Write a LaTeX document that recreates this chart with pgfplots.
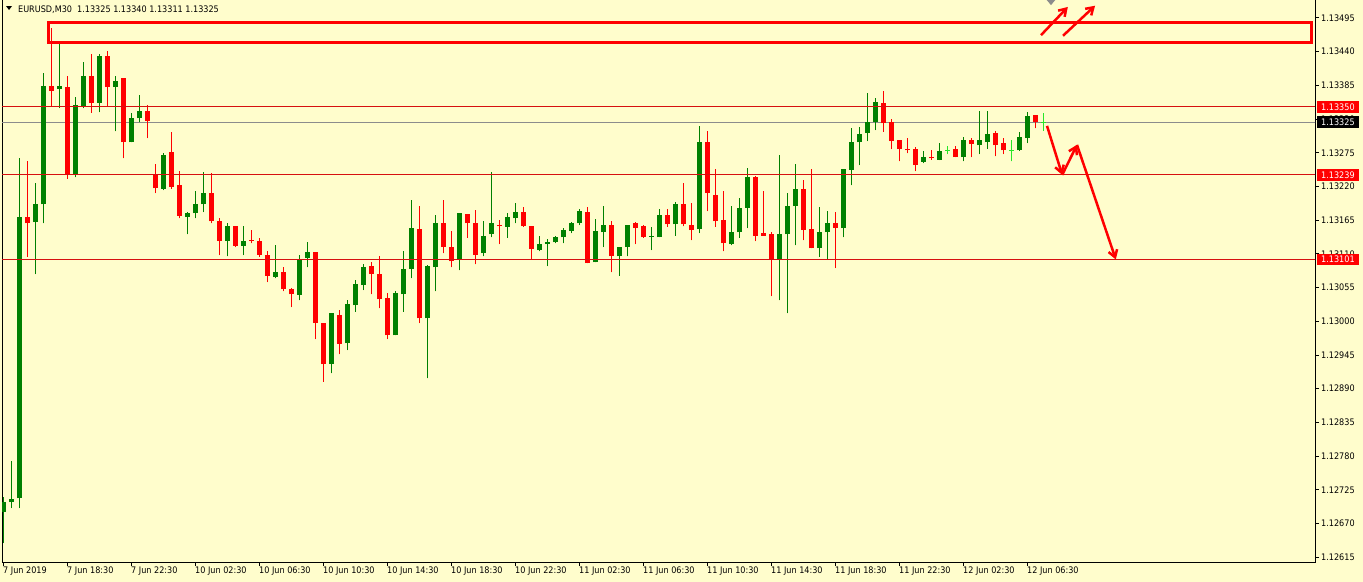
\documentclass[border=0pt]{standalone}
\usepackage{fontspec}
\setmainfont{DejaVu Sans}[FakeStretch=0.9]
\usepackage{pgfplots}
\pgfplotsset{compat=1.18}
\usepackage{pgfplotstable}
\usetikzlibrary{arrows.meta}

\definecolor{mtbg}{RGB}{255,253,204}
\definecolor{mtbull}{RGB}{0,128,0}
\definecolor{mtbear}{RGB}{255,0,0}
\definecolor{mtdoji}{RGB}{40,230,40}
\definecolor{mtline}{RGB}{214,16,16}
\definecolor{mtbid}{RGB}{140,140,140}

% EURUSD M30, candle index i, open high low close
\pgfplotstableread{
i o h l c
0 1.12688 1.12713 1.12638 1.12705
1 1.12705 1.12772 1.12695 1.12710
2 1.12711 1.13266 1.12695 1.13170
4 1.13162 1.13225 1.13077 1.13191
5 1.13191 1.13405 1.13160 1.13384
7 1.13379 1.13457 1.13348 1.13384
9 1.13240 1.13366 1.13235 1.13353
10 1.13351 1.13423 1.13348 1.13400
12 1.13356 1.13436 1.13341 1.13433
14 1.13382 1.13400 1.13310 1.13393
16 1.13292 1.13340 1.13292 1.13331
17 1.13331 1.13369 1.13325 1.13344
20 1.13216 1.13274 1.13214 1.13271
23 1.13170 1.13178 1.13142 1.13176
24 1.13176 1.13212 1.13168 1.13191
25 1.13191 1.13243 1.13178 1.13209
28 1.13131 1.13160 1.13106 1.13155
30 1.13123 1.13155 1.13108 1.13131
34 1.13072 1.13124 1.13070 1.13080
37 1.13043 1.13108 1.13034 1.13101
38 1.13103 1.13129 1.13088 1.13113
41 1.12930 1.13013 1.12915 1.13013
43 1.12964 1.13034 1.12953 1.13028
44 1.13026 1.13067 1.13016 1.13061
45 1.13059 1.13093 1.13051 1.13088
49 1.12977 1.13049 1.12977 1.13046
50 1.13044 1.13114 1.13016 1.13085
51 1.13085 1.13198 1.13070 1.13152
53 1.13005 1.13092 1.12907 1.13090
54 1.13088 1.13173 1.13049 1.13160
57 1.13101 1.13176 1.13083 1.13176
60 1.13111 1.13163 1.13106 1.13139
61 1.13142 1.13243 1.13137 1.13160
63 1.13154 1.13176 1.13136 1.13170
64 1.13168 1.13193 1.13160 1.13178
67 1.13116 1.13139 1.13114 1.13126
68 1.13126 1.13134 1.13090 1.13129
69 1.13129 1.13139 1.13127 1.13137
70 1.13137 1.13152 1.13127 1.13149
71 1.13147 1.13162 1.13144 1.13160
72 1.13160 1.13183 1.13157 1.13180
74 1.13096 1.13167 1.13096 1.13147
75 1.13145 1.13188 1.13121 1.13158
77 1.13106 1.13121 1.13074 1.13121
78 1.13121 1.13158 1.13106 1.13158
81 1.13138 1.13154 1.13116 1.13139
82 1.13137 1.13183 1.13137 1.13173
84 1.13158 1.13194 1.13140 1.13191
87 1.13150 1.13318 1.13144 1.13292
91 1.13126 1.13188 1.13124 1.13145
92 1.13145 1.13202 1.13136 1.13185
93 1.13185 1.13250 1.13152 1.13235
97 1.13101 1.13271 1.13034 1.13142
98 1.13142 1.13209 1.13013 1.13189
99 1.13188 1.13256 1.13124 1.13216
102 1.13119 1.13186 1.13105 1.13145
103 1.13145 1.13180 1.13101 1.13160
105 1.13152 1.13248 1.13137 1.13248
106 1.13247 1.13315 1.13222 1.13292
107 1.13292 1.13317 1.13255 1.13305
108 1.13307 1.13372 1.13294 1.13325
109 1.13325 1.13364 1.13312 1.13358
115 1.13260 1.13278 1.13258 1.13268
117 1.13264 1.13291 1.13263 1.13278
120 1.13268 1.13300 1.13261 1.13296
122 1.13287 1.13343 1.13273 1.13296
123 1.13292 1.13343 1.13282 1.13305
127 1.13279 1.13309 1.13278 1.13300
128 1.13299 1.13341 1.13291 1.13335
}\bull

\pgfplotstableread{
i o h l c
3 1.13170 1.13261 1.13105 1.13160
6 1.13384 1.13478 1.13351 1.13376
8 1.13382 1.13400 1.13233 1.13240
11 1.13400 1.13436 1.13340 1.13356
13 1.13433 1.13441 1.13351 1.13382
15 1.13397 1.13397 1.13266 1.13292
18 1.13343 1.13353 1.13299 1.13327
19 1.13240 1.13256 1.13209 1.13217
21 1.13276 1.13309 1.13216 1.13220
22 1.13222 1.13245 1.13168 1.13172
26 1.13209 1.13242 1.13160 1.13163
27 1.13163 1.13168 1.13108 1.13131
29 1.13155 1.13155 1.13121 1.13123
31 1.13132 1.13149 1.13127 1.13131
32 1.13131 1.13136 1.13105 1.13109
33 1.13109 1.13114 1.13064 1.13074
35 1.13080 1.13088 1.13049 1.13052
36 1.13052 1.13054 1.13023 1.13044
39 1.13113 1.13113 1.12971 1.12997
40 1.12997 1.12998 1.12901 1.12930
42 1.13010 1.13018 1.12946 1.12963
46 1.13090 1.13096 1.13044 1.13077
47 1.13077 1.13106 1.13021 1.13036
48 1.13038 1.13046 1.12971 1.12977
52 1.13150 1.13188 1.12997 1.13005
55 1.13160 1.13198 1.13111 1.13121
56 1.13121 1.13147 1.13088 1.13098
58 1.13175 1.13175 1.13136 1.13160
59 1.13160 1.13181 1.13093 1.13109
62 1.13158 1.13165 1.13126 1.13155
65 1.13178 1.13186 1.13154 1.13155
66 1.13155 1.13155 1.13101 1.13118
73 1.13178 1.13186 1.13095 1.13095
76 1.13158 1.13163 1.13080 1.13106
79 1.13160 1.13162 1.13126 1.13152
80 1.13155 1.13158 1.13136 1.13137
83 1.13173 1.13183 1.13154 1.13158
85 1.13191 1.13225 1.13155 1.13158
86 1.13158 1.13193 1.13132 1.13149
88 1.13292 1.13310 1.13180 1.13209
89 1.13206 1.13248 1.13154 1.13163
90 1.13165 1.13212 1.13114 1.13127
94 1.13235 1.13237 1.13131 1.13140
95 1.13144 1.13212 1.13140 1.13140
96 1.13142 1.13145 1.13041 1.13101
100 1.13216 1.13230 1.13132 1.13149
101 1.13150 1.13248 1.13119 1.13119
104 1.13160 1.13178 1.13087 1.13152
110 1.13356 1.13376 1.13309 1.13323
111 1.13325 1.13330 1.13281 1.13294
112 1.13296 1.13296 1.13261 1.13281
113 1.13282 1.13299 1.13274 1.13279
114 1.13281 1.13284 1.13245 1.13255
116 1.13268 1.13279 1.13264 1.13266
119 1.13281 1.13286 1.13268 1.13268
121 1.13296 1.13299 1.13268 1.13289
124 1.13307 1.13310 1.13269 1.13287
125 1.13291 1.13299 1.13273 1.13279
129 1.13336 1.13336 1.13315 1.13325
}\bear

\pgfplotstableread{
i o h l c
118 1.13278 1.13286 1.13273 1.13278
126 1.13279 1.13296 1.13261 1.13279
130 1.13325 1.13340 1.13311 1.13325
}\doji

\pgfplotsset{
  wick/.style={only marks, mark=*, mark options={draw=none, fill=none},
    mark size=0pt, forget plot,
    error bars/.cd, y dir=plus, y explicit, error mark=none,
    error bar style={line width=1bp, #1}},
  body/.style={only marks, mark=*, mark options={draw=none, fill=none},
    mark size=0pt, forget plot,
    error bars/.cd, y dir=plus, y explicit, error mark=none,
    error bar style={line width=5bp, line cap=butt, #1}},
}

\begin{document}
\begin{tikzpicture}[font=\fontsize{9bp}{11bp}\selectfont]
\fill[mtbg] (0,0) rectangle (1363bp,-582bp);
\useasboundingbox (0,0) rectangle (1363bp,-582bp);
\begin{axis}[
  at={(2bp,-562bp)}, anchor=south west,
  scale only axis, width=1313bp, height=563bp,
  xmin=-0.125, xmax=164,
  ymin=1.126072, ymax=1.135260,
  axis line style={black, line width=1bp},
  tick style={black, line width=1bp},
  tick align=outside, major tick length=4bp,
  xtick pos=bottom, ytick pos=right,
  yticklabel pos=right,
  xtick={0,8,...,128},
  xticklabels={7 Jun 2019, 7 Jun 18:30, 7 Jun 22:30, 10 Jun 02:30, 10 Jun 06:30,
    10 Jun 10:30, 10 Jun 14:30, 10 Jun 18:30, 10 Jun 22:30, 11 Jun 02:30,
    11 Jun 06:30, 11 Jun 10:30, 11 Jun 14:30, 11 Jun 18:30, 11 Jun 22:30,
    12 Jun 02:30, 12 Jun 06:30},
  xticklabel style={anchor=north west, inner sep=0pt, xshift=0bp, yshift=-1bp},
  ytick={1.12615,1.12670,1.12725,1.12780,1.12835,1.12890,1.12945,1.13000,
    1.13055,1.13110,1.13165,1.13220,1.13275,1.13330,1.13385,1.13440,1.13495},
  yticklabel style={anchor=west, inner sep=0pt, xshift=2bp,
    /pgf/number format/.cd, fixed, fixed zerofill, precision=5,
    assume math mode=true},
  scaled y ticks=false,
]
% bid line
\addplot[mtbid, line width=1bp, forget plot] coordinates {(-1,1.13325) (170,1.13325)};

% candles
\addplot[wick=mtbull] table[x=i, y=l, y error expr=\thisrow{h}-\thisrow{l}] {\bull};
\addplot[body=mtbull] table[x=i, y=o, y error expr=\thisrow{c}-\thisrow{o}] {\bull};
\addplot[wick=mtbear] table[x=i, y=l, y error expr=\thisrow{h}-\thisrow{l}] {\bear};
\addplot[body=mtbear] table[x=i, y=c, y error expr=\thisrow{o}-\thisrow{c}] {\bear};
\addplot[wick=mtdoji] table[x=i, y=l, y error expr=\thisrow{h}-\thisrow{l}] {\doji};
\addplot[mtdoji, only marks, mark=-, mark size=2.5bp, mark options={line width=1bp}, forget plot]
  table[x=i, y=o] {\doji};

% levels
\addplot[mtline, line width=1bp, forget plot] coordinates {(-1,1.13350) (170,1.13350)};
\addplot[mtline, line width=1bp, forget plot] coordinates {(-1,1.13239) (170,1.13239)};
\addplot[mtline, line width=1bp, forget plot] coordinates {(-1,1.13101) (170,1.13101)};

% resistance box and projected path
\draw[mtbear, line width=3bp] (axis cs:5.625,1.13455) rectangle (axis cs:163.6,1.13488);
\begin{scope}[mtbear, line width=2.5bp, -{Straight Barb[length=7bp, width=9bp]}]
  \draw (axis cs:129.75,1.13467) -- (axis cs:133.1,1.13513);
  \draw (axis cs:132.5,1.13466) -- (axis cs:136.5,1.13515);
  \draw (axis cs:130.5,1.13319) -- (axis cs:132.4,1.13239);
  \draw (axis cs:132.4,1.13239) -- (axis cs:134.25,1.13288);
  \draw (axis cs:134.25,1.13288) -- (axis cs:139.1,1.13101);
\end{scope}
\fill[mtbid] (axis cs:130.3,1.13527) -- (axis cs:131.7,1.13527) -- (axis cs:131,1.13516) -- cycle;

\coordinate (r1) at (axis cs:164,1.13350);
\coordinate (r2) at (axis cs:164,1.13325);
\coordinate (r3) at (axis cs:164,1.13239);
\coordinate (r4) at (axis cs:164,1.13101);
\end{axis}

\begin{scope}[every node/.style={anchor=west, text=white, inner xsep=4.5bp,
    inner ysep=0pt, minimum height=11.5bp, xshift=1.5bp}]
\node[fill=mtbear] at (r1) {1.13350};
\node[fill=black] at (r2) {1.13325};
\node[fill=mtbear] at (r3) {1.13239};
\node[fill=mtbear] at (r4) {1.13101};
\end{scope}

% chart header
\fill (6bp,-6bp) -- (12bp,-6bp) -- (9bp,-10bp) -- cycle;
\node[anchor=base west, inner sep=0pt] at (18bp,-12bp)
  {EURUSD,M30\ \ 1.13325 1.13340 1.13311 1.13325};
\end{tikzpicture}
\end{document}
